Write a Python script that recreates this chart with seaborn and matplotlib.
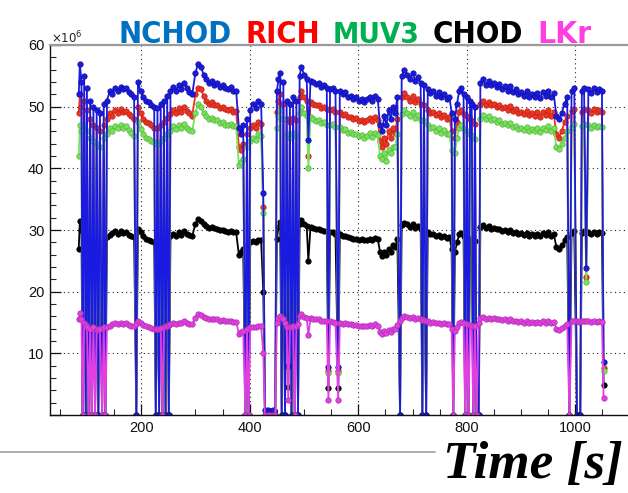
import numpy as np
import pandas as pd
import matplotlib
matplotlib.use("Agg")
import matplotlib.pyplot as plt
import seaborn as sns
from matplotlib import font_manager
from matplotlib.lines import Line2D
from matplotlib.ticker import MultipleLocator, FuncFormatter

# ---------------- data (rates in units of 10^6) ----------------
time_s = [85, 87, 90, 92, 95, 98, 100, 103, 106, 109,
          112, 115, 118, 121, 124, 128, 131, 134, 137, 142,
          147, 152, 157, 162, 167, 172, 177, 182, 187, 191,
          194, 199, 204, 209, 214, 219, 224, 227, 230, 233,
          236, 239, 242, 245, 248, 251, 254, 259, 264, 269,
          274, 279, 284, 289, 294, 300, 305, 310, 315, 320,
          325, 330, 335, 340, 345, 350, 355, 360, 365, 370,
          375, 380, 384, 388, 392, 395, 398, 401, 406, 411,
          416, 421, 425, 428, 433, 438, 443, 447, 450, 453,
          456, 459, 462, 465, 468, 471, 474, 477, 480, 483,
          486, 489, 492, 495, 500, 505, 508, 512, 517, 522,
          527, 532, 537, 542, 545, 548, 553, 558, 563, 566,
          571, 576, 581, 586, 591, 596, 601, 606, 611, 616,
          621, 626, 631, 636, 640, 644, 648, 652, 656, 660,
          664, 668, 672, 677, 680, 685, 690, 695, 700, 705,
          710, 715, 718, 721, 725, 728, 733, 738, 743, 748,
          753, 758, 763, 768, 772, 775, 778, 782, 786, 790,
          794, 797, 800, 803, 806, 809, 812, 815, 818, 822,
          825, 830, 835, 840, 845, 850, 855, 860, 865, 870,
          875, 880, 885, 890, 895, 900, 905, 910, 915, 920,
          925, 930, 935, 940, 945, 950, 955, 960, 965, 970,
          975, 980, 985, 989, 993, 998, 1003, 1006, 1009, 1012,
          1016, 1020, 1024, 1029, 1034, 1039, 1044, 1049, 1052]

nchod = [52, 57, 54, 0, 55, 0, 53, 0, 51, 0,
         50, 0, 49.5, 0, 49, 0, 50.5, 0, 51, 52.5,
         52, 53, 52.5, 53.2, 52.8, 53, 52.4, 52, 51.5, 0,
         54, 52.5, 51.5, 51, 50.8, 50.3, 50, 0, 49.8, 0,
         50.5, 0, 51, 0, 51.8, 0, 52.5, 53.2, 52.6, 53.5,
         52.8, 53.8, 53, 52.4, 52, 55.5, 57, 56.5, 55.2, 54.5,
         53.8, 54.2, 53.5, 53.8, 53.2, 53.5, 53, 52.8, 53.2, 52.5,
         52.6, 46.5, 45.5, 47, 0, 48, 0, 49.5, 50.5, 49.8,
         51, 50.5, 36, 0.8, 0.8, 0.7, 0.8, 0, 52.5, 54.5,
         55.5, 0, 54, 0, 51, 8, 50.5, 0, 51.5, 0,
         51, 0, 55, 56.5, 55.2, 54.5, 44.6, 54.2, 54, 53.6,
         53.8, 53.2, 53.5, 53, 7.8, 52.8, 53.1, 52.5, 7.8, 52.6,
         52, 52.3, 51.6, 51.8, 51.2, 51.5, 51, 51.3, 50.8, 51.2,
         51.6, 51, 51.8, 51.2, 47, 46, 48.5, 47, 49.5, 48,
         50, 49, 51.5, 0, 55, 56, 55.2, 54.5, 55.5, 54.2,
         54.8, 53.8, 0, 53.5, 0, 52.8, 52.2, 52.6, 51.8, 52.3,
         51.5, 52, 51.2, 51.6, 49, 0, 48, 50.5, 52.5, 53,
         52, 0, 51.5, 0, 51, 50.5, 0, 50, 0, 0,
         53.8, 54.5, 53.5, 54.2, 53.5, 53.8, 53.2, 53.6, 52.9, 53.3,
         52.6, 53.4, 52.4, 52.8, 52, 52.4, 51.8, 52.5, 51.6, 52,
         51.5, 52.2, 51.4, 52.3, 51.7, 52.6, 51.5, 52.2, 48.5, 48,
         49, 50.5, 51.5, 0, 52.5, 53, 0, 0, 0, 52.5,
         53, 23.8, 52.8, 52.2, 53, 52.4, 52.8, 52.5, 8.6]

rich = [49, 52, 50, 0, 51, 0, 49.5, 0, 48, 0,
        47, 0, 46.5, 0, 46, 0, 47, 0, 48, 49,
        48.5, 49.5, 49, 49.6, 49.2, 49.3, 48.8, 48.5, 48, 0,
        50, 49, 48, 47.5, 47.3, 47, 46.6, 0, 46.5, 0,
        47, 0, 47.5, 0, 48.2, 0, 48.8, 49.5, 49, 49.8,
        49.2, 50, 49.3, 48.9, 48.5, 52, 53, 52.8, 51.8, 51,
        50.5, 50.7, 50.2, 50.3, 49.8, 50, 49.6, 49.5, 49.7, 49.2,
        49.3, 43.5, 43, 44, 0, 45.5, 0, 46.5, 47, 46.5,
        47.5, 47.2, 33.7, 0, 0, 0, 0, 0, 49.2, 51,
        52, 0, 50.5, 0, 48, 7.5, 47.5, 0, 48.2, 0,
        47.8, 0, 51.5, 52.5, 51.5, 51, 42, 50.8, 50.5, 50.2,
        50.3, 49.8, 50, 49.6, 7.2, 49.4, 49.6, 49.2, 7.2, 49.2,
        48.7, 48.8, 48.3, 48.4, 48, 48.1, 47.7, 47.9, 47.5, 47.8,
        48.2, 47.6, 48.3, 47.9, 44.5, 43.5, 45, 44, 46, 45,
        46.5, 45.8, 48, 0, 51.5, 52.2, 51.6, 51, 51.8, 50.8,
        51.2, 50.4, 0, 50.2, 0, 49.5, 49, 49.2, 48.6, 49,
        48.3, 48.7, 48, 48.3, 46, 0, 45, 47.5, 49.2, 49.5,
        48.8, 0, 48.5, 0, 48, 47.6, 0, 47.2, 0, 0,
        50.5, 51, 50.3, 50.8, 50.2, 50.5, 50, 50.3, 49.8, 50,
        49.5, 50.1, 49.3, 49.6, 49, 49.2, 48.8, 49.3, 48.6, 48.9,
        48.5, 49.1, 48.4, 49.2, 48.7, 49.5, 48.5, 49.1, 45.5, 45,
        46, 47.5, 48.5, 0, 49.3, 49.6, 0, 0, 0, 49.2,
        49.6, 22.3, 49.5, 49, 49.6, 49.2, 49.4, 49.2, 7.7]

muv3 = [42, 47, 46, 0, 47, 0, 46, 0, 45, 0,
        44.5, 0, 44, 0, 43.5, 0, 45, 0, 45.5, 46.5,
        46, 46.8, 46.5, 47, 46.6, 46.8, 46.2, 45.8, 45.3, 0,
        47.5, 46.4, 45.5, 45, 44.8, 44.5, 44.2, 0, 44, 0,
        44.5, 0, 45, 0, 45.6, 0, 46, 46.8, 46.3, 47,
        46.5, 47.2, 46.6, 46.2, 46, 49, 50.5, 50, 49, 48.5,
        48, 48.2, 47.8, 47.8, 47.4, 47.5, 47, 47, 47.2, 46.8,
        46.8, 40.5, 41, 41.5, 0, 43.5, 0, 44.5, 45, 44.6,
        45.5, 45.2, 32.7, 0, 0, 0, 0, 0, 46.5, 48.5,
        49.5, 0, 48, 0, 45.5, 7, 45, 0, 45.8, 0,
        45.3, 0, 49, 50, 49, 48.5, 40, 48.3, 48, 47.7,
        47.8, 47.3, 47.5, 47.1, 6.8, 47, 47.2, 46.7, 6.8, 46.7,
        46.2, 46.3, 45.8, 45.9, 45.5, 45.6, 45.2, 45.4, 45, 45.3,
        45.7, 45.1, 45.8, 45.4, 42, 41.5, 42.5, 41.2, 43, 42.5,
        43.5, 43.5, 45.5, 0, 48.8, 49.5, 49, 48.5, 49.2, 48.2,
        48.6, 47.8, 0, 47.6, 0, 47, 46.5, 46.7, 46.1, 46.5,
        45.8, 46.2, 45.5, 45.6, 43, 0, 42.5, 45, 46.5, 47,
        46.3, 0, 46, 0, 45.5, 45.2, 0, 44.8, 0, 0,
        48, 48.7, 48, 48.5, 47.8, 48, 47.5, 47.8, 47.2, 47.4,
        47, 47.4, 46.7, 46.9, 46.4, 46.6, 46.2, 46.7, 46.1, 46.4,
        46, 46.5, 45.9, 46.6, 46.2, 46.9, 46, 46.5, 43.5, 43.2,
        44, 45, 46, 0, 46.7, 47.2, 0, 0, 0, 46.8,
        47.2, 21.5, 47, 46.5, 47.1, 46.7, 46.9, 46.7, 7.2]

chod = [27, 31.5, 30, 0, 29.5, 0, 28, 0, 28.5, 0,
        28, 0, 27.8, 0, 28.2, 0, 28.5, 0, 28.8, 29.2,
        29.5, 29.8, 29.4, 29.8, 29.5, 29.6, 29.2, 29, 28.8, 0,
        30.2, 29.6, 29, 28.6, 28.4, 28.2, 28, 0, 27.8, 0,
        28.3, 0, 28.5, 0, 28.8, 0, 29, 29.3, 29, 29.6,
        29.2, 29.8, 29.4, 29.2, 29, 31, 31.8, 31.5, 31, 30.6,
        30.3, 30.5, 30.3, 30.2, 30, 30, 29.8, 29.7, 29.8, 29.6,
        29.6, 26, 26.5, 27, 0, 27.5, 0, 28, 28.2, 28,
        28.4, 28.3, 20, 0, 0, 0, 0, 0, 28.5, 30.5,
        31.3, 0, 30.5, 0, 28.4, 4.6, 28, 0, 28.6, 0,
        28.3, 0, 31, 31.6, 31, 30.7, 25, 30.5, 30.4, 30.2,
        30.2, 30, 29.9, 29.8, 4.4, 29.7, 29.6, 29.4, 4.4, 29.3,
        29, 29, 28.8, 28.7, 28.6, 28.5, 28.3, 28.5, 28.3, 28.4,
        28.6, 28.3, 28.7, 28.5, 26.5, 25.8, 26.5, 26, 27, 26.5,
        27.5, 27.2, 28.5, 0, 30.8, 31.2, 30.9, 30.5, 31, 30.3,
        30.6, 30.1, 0, 30, 0, 29.6, 29.3, 29.4, 29, 29.2,
        28.9, 29.1, 28.7, 28.8, 27, 0, 26.5, 28, 29.3, 29.5,
        29, 0, 28.8, 0, 28.5, 28.3, 0, 28.2, 0, 0,
        30.5, 30.8, 30.3, 30.6, 30.2, 30.4, 30.1, 30.2, 29.9, 30,
        29.7, 30, 29.5, 29.7, 29.3, 29.5, 29.2, 29.5, 29.1, 29.3,
        29, 29.4, 29, 29.5, 29.2, 29.6, 29, 29.4, 27.3, 27,
        27.5, 28.3, 28.8, 0, 29.5, 29.8, 0, 0, 0, 29.5,
        29.8, 29.5, 29.6, 29.3, 29.7, 29.4, 29.6, 29.5, 4.9]

lkr = [15.5, 16.5, 15.5, 0, 15, 14.6, 14.3, 0, 14, 0,
       14.2, 0, 13.8, 13.9, 14, 0, 14.2, 0, 14.3, 14.5,
       14.8, 14.9, 14.7, 15, 14.8, 14.9, 14.6, 14.5, 14.4, 14.8,
       15.3, 14.9, 14.6, 14.4, 14.2, 14.1, 13.9, 13.9, 13.9, 14,
       14.1, 0, 14.3, 14.4, 14.5, 14.6, 14.7, 14.9, 14.8, 15,
       14.9, 15.2, 15, 14.8, 14.7, 15.8, 16.3, 16.2, 15.9, 15.7,
       15.5, 15.6, 15.5, 15.5, 15.3, 15.4, 15.3, 15.2, 15.3, 15.1,
       15.1, 13.2, 13.4, 13.6, 0, 13.9, 0, 14.2, 14.3, 14.2,
       14.4, 14.4, 10, 0, 0, 0, 0, 0, 15, 15.7,
       16.1, 15.8, 15.6, 15, 14.3, 2.5, 14.2, 14.3, 14.5, 0,
       14.4, 14.8, 16, 16.3, 15.9, 15.8, 13, 15.7, 15.6, 15.5,
       15.5, 15.3, 15.3, 15.2, 2.4, 15.2, 15.1, 15, 2.4, 15,
       14.8, 14.9, 14.7, 14.7, 14.6, 14.6, 14.5, 14.5, 14.4, 14.5,
       14.6, 14.5, 14.7, 14.5, 13.5, 13.2, 13.6, 13.3, 13.8, 13.5,
       14, 13.9, 14.6, 15.2, 15.8, 16.1, 15.9, 15.7, 15.9, 15.6,
       15.7, 15.5, 15.4, 15.4, 15.3, 15.2, 15, 15.1, 14.9, 15,
       14.8, 14.9, 14.7, 14.8, 14, 0, 13.6, 14.3, 15, 15.1,
       14.9, 0, 14.8, 0, 14.6, 14.5, 0, 14.5, 0, 15,
       15.7, 15.9, 15.6, 15.8, 15.6, 15.7, 15.5, 15.6, 15.4, 15.5,
       15.3, 15.5, 15.2, 15.3, 15.1, 15.2, 15, 15.2, 15, 15.1,
       14.9, 15.1, 14.9, 15.2, 15, 15.3, 14.9, 15.1, 14, 13.8,
       14.1, 14.5, 14.8, 0, 15.2, 15.3, 15.2, 15.1, 15.2, 15.2,
       15.3, 15.2, 15.2, 15.1, 15.3, 15.1, 15.2, 15.1, 2.8]

detectors = ["NCHOD", "RICH", "MUV3", "CHOD", "LKr"]
line_colors = {"NCHOD": "#1a1ae0", "RICH": "#ee3322", "MUV3": "#78e25a",
               "CHOD": "#000000", "LKr": "#e23fe2"}
edge_colors = {"NCHOD": "#10109a", "RICH": "#b82418", "MUV3": "#58b040",
               "CHOD": "#000000", "LKr": "#b030b0"}
title_colors = ["#0070C0", "#FF0000", "#00B050", "#000000", "#FF40E0"]
draw_order = ["CHOD", "RICH", "MUV3", "NCHOD", "LKr"]
x_ticks = [200, 400, 600, 800, 1000]
y_ticks = [10, 20, 30, 40, 50, 60]

# ---------------- build figure ----------------
sns.set_theme(style="white")
ttf = font_manager.fontManager.ttflist
avail = {f.name for f in ttf}
plt.rcParams["font.family"] = ["Liberation Sans", "DejaVu Sans"]

W, H = 628, 493
fig = plt.figure(figsize=(W / 100, H / 100), dpi=100)
fig.patch.set_facecolor("white")
ax = fig.add_axes([50 / W, 78 / H, 578 / W, 370 / H])
ax.set_facecolor("white")

df = pd.DataFrame({"t": time_s, "NCHOD": nchod, "RICH": rich, "MUV3": muv3,
                   "CHOD": chod, "LKr": lkr})
long = df.melt(id_vars="t", var_name="detector", value_name="rate")

for name in draw_order:
    sub = long[long["detector"] == name]
    sns.lineplot(data=sub, x="t", y="rate", color=line_colors[name],
                 marker="o", markersize=3.9, markeredgewidth=0.5,
                 markeredgecolor=edge_colors[name],
                 linewidth=1.3, sort=False, estimator=None, ax=ax,
                 legend=False)

ax.set_xlim(32, 1097)
ax.set_ylim(0, 60)
ax.set_xlabel("")
ax.set_ylabel("")
ax.set_xticks(x_ticks)
ax.xaxis.set_minor_locator(MultipleLocator(50))
ax.set_yticks([0] + y_ticks)
ax.yaxis.set_minor_locator(MultipleLocator(2))
ax.yaxis.set_major_formatter(FuncFormatter(lambda v, p: "" if v == 0 else f"{int(v)}"))
ax.tick_params(which="major", direction="in", length=8, width=0.9,
               labelsize=10.5, colors="#111111", pad=4)
ax.tick_params(which="minor", direction="in", length=4, width=0.8)
ax.tick_params(axis="x", which="both", bottom=True, top=False)
ax.tick_params(axis="y", which="both", left=True, right=False)

ax.grid(True, which="major", color="#222222", linestyle=(0, (1, 3)), linewidth=0.8)
ax.set_axisbelow(True)
for s in ["left", "bottom"]:
    ax.spines[s].set_color("#111111")
    ax.spines[s].set_linewidth(1.0)
ax.spines["top"].set_color("#9a9a9a")
ax.spines["top"].set_linewidth(1.6)
ax.spines["right"].set_visible(False)

# x10^6 multiplier
fig.text(51 / W, 1 - 43 / H, r"$\times10^{6}$", fontsize=8.5, color="#222222",
         va="baseline", ha="left")

# separator line
fig.add_artist(Line2D([0, 435 / W], [1 - 452 / H, 1 - 452 / H],
                      transform=fig.transFigure, color="#a8a8a8", lw=1.3))

fig.canvas.draw()
renderer = fig.canvas.get_renderer()

# pick a condensed bold sans if one exists
title_kw = dict(family=["Liberation Sans", "DejaVu Sans"])
if "Liberation Sans Narrow" in avail:
    title_kw = dict(family=["Liberation Sans Narrow", "DejaVu Sans"])
else:
    cond = [f for f in ttf if f.name == "DejaVu Sans" and str(f.stretch) in
            ("condensed", "semi-condensed", "600", "700", "500")]
    if cond:
        title_kw = dict(family=["DejaVu Sans"], fontstretch="condensed")

# coloured title words
word_x = [118, 245, 333, 433, 537]
word_w = [114, 75, 87, 91, 54]
for word, col, x0, wd in zip(detectors, title_colors, word_x, word_w):
    txt = fig.text(x0 / W, 1 - 43 / H, word, color=col, fontsize=26,
                   fontweight="bold", va="baseline", ha="left", **title_kw)
    bb = txt.get_window_extent(renderer)
    txt.set_fontsize(26 * wd / bb.width)

# axis title
xl = fig.text(443 / W, 1 - 478 / H, "Time [s]", color="black", fontsize=28,
              fontweight="bold", fontstyle="italic",
              family=["Liberation Serif", "DejaVu Serif"],
              va="baseline", ha="left")
bb = xl.get_window_extent(renderer)
xl.set_fontsize(28 * 180 / bb.width)
bb = xl.get_window_extent(renderer)
if bb.y0 < 2:
    xl.set_y((1 - 478 / H) + (2 - bb.y0) / H)

fig.savefig("out.png", dpi=100, facecolor="white")
